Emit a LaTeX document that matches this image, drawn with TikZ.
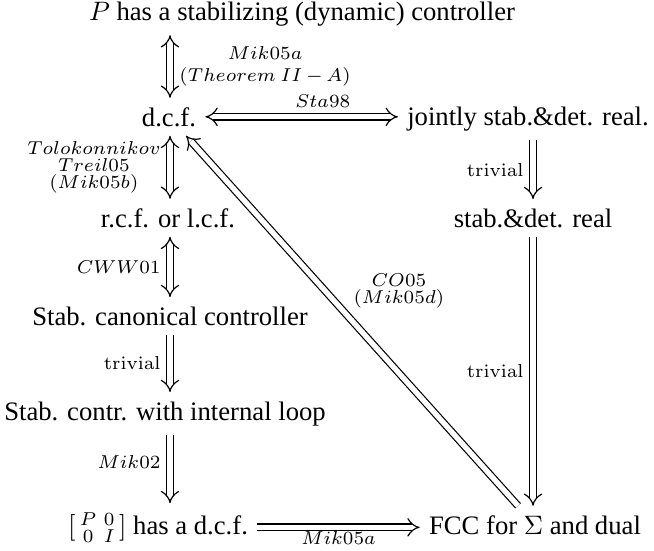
\documentclass[tikz,border=0pt]{standalone}
\usepackage{amsmath}
\usepackage[no-math]{fontspec}
\setmainfont{Liberation Serif}
\usetikzlibrary{arrows.meta}
\begin{document}
\begin{tikzpicture}[
        x=0.375pt,
        y=-0.375pt,
        font=\normalsize
    ]
    \tikzset{
        mynode/.style = {anchor=base},
        myimp/.style = {double, double distance=2pt, line width=0.45pt, -{Implies}},
        myeqv/.style = {double, double distance=2pt, line width=0.45pt, {Implies}-{Implies}},
        mylbl/.style = {midway, font={\fontsize{7}{6.5}\selectfont}, align=center},
    }
    \useasboundingbox (0,0) rectangle (654,550);
    \coordinate (lc) at (170,0);
    \coordinate (rc) at (533,0);
    \node[mynode] at (302,20) (ctrl) {$P$ has a stabilizing (dynamic) controller};
    \node[mynode] at (169,126) (dcf) {d.c.f.};
    \node[mynode] at (528,125) (jsd) {jointly stab.\&det. real.};
    \node[mynode] at (168,227) (rcf) {r.c.f. or l.c.f.};
    \node[mynode] at (533,227) (sdr) {stab.\&det. real};
    \node[mynode] at (170,325) (canon) {Stab. canonical controller};
    \node[mynode] at (165,420) (loop) {Stab. contr. with internal loop};
    \node[mynode] at (158,534) (mat) {$\left[\begin{smallmatrix}P&0\\0&I\end{smallmatrix}\right]$ has a d.c.f.};
    \node[mynode] at (535,534) (fcc) {FCC for $\Sigma$ and dual};
    %
    \draw[myeqv] (ctrl.south -| lc) -- node[mylbl, right] {$Mik05a$\\[1.5pt]$(Theorem\ II\,{-}\,A)$} (dcf.north -| lc);
    \draw[myeqv] (dcf.east) -- node[mylbl, above, pos=0.61] {$Sta98$} (dcf.east -| jsd.west);
    \draw[myeqv] (dcf.south -| lc) -- node[mylbl, left] {$Tolokonnikov$\\$Treil05$\\$(Mik05b)$} (rcf.north -| lc);
    \draw[myeqv] (rcf.south -| lc) -- node[mylbl, left] {$CWW01$} (canon.north -| lc);
    \draw[myimp] (canon.south -| lc) -- node[mylbl, left] {$\mathrm{trivial}$} (loop.north -| lc);
    \draw[myimp] (loop.south -| lc) -- node[mylbl, left, pos=0.4] {$Mik02$} (mat.north -| lc);
    %
    \draw[myimp] (jsd.south -| rc) -- node[mylbl, left] {$\mathrm{trivial}$} (sdr.north -| rc);
    \draw[myimp] (sdr.south -| rc) -- node[mylbl, left] {$\mathrm{trivial}$} (fcc.north -| rc);
    %
    \draw[myimp] (mat.east) -- node[mylbl, below, inner sep=1.5pt] {$Mik05a$} (mat.east -| fcc.west);
    \draw[myimp] (fcc) -- node[mylbl, right=7pt, pos=0.58] {$CO05$\\$(Mik05d)$} (dcf);
\end{tikzpicture}
\end{document}
